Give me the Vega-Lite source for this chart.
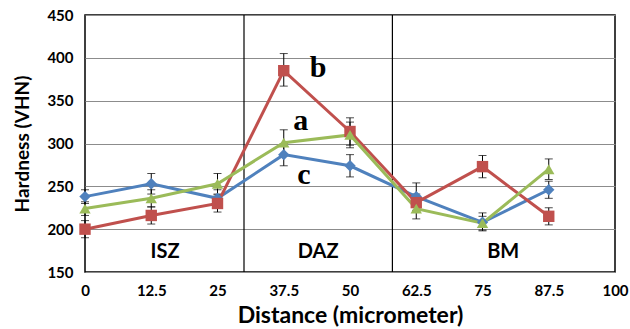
{
  "$schema": "https://vega.github.io/schema/vega-lite/v6.json",
  "width": 530,
  "height": 257,
  "autosize": {"type": "none"},
  "padding": {"left": 85, "top": 15, "right": 15, "bottom": 57},
  "background": "white",
  "config": {
    "view": {"stroke": "#000000", "strokeWidth": 1.5},
    "font": "Lato"
  },
  "datasets": {
    "pts": [
      {"s": "c", "x": 0, "y": 238, "lo": 230, "hi": 246},
      {"s": "c", "x": 12.5, "y": 253, "lo": 241, "hi": 265},
      {"s": "c", "x": 25, "y": 236, "lo": 226, "hi": 246},
      {"s": "c", "x": 37.5, "y": 287, "lo": 274, "hi": 300},
      {"s": "c", "x": 50, "y": 274, "lo": 261, "hi": 287},
      {"s": "c", "x": 62.5, "y": 238, "lo": 222, "hi": 254},
      {"s": "c", "x": 75, "y": 208, "lo": 198, "hi": 219},
      {"s": "c", "x": 87.5, "y": 246, "lo": 236, "hi": 256},
      {"s": "b", "x": 0, "y": 200, "lo": 190, "hi": 210},
      {"s": "b", "x": 12.5, "y": 216, "lo": 206, "hi": 226},
      {"s": "b", "x": 25, "y": 230, "lo": 220, "hi": 240},
      {"s": "b", "x": 37.5, "y": 385, "lo": 367, "hi": 405},
      {"s": "b", "x": 50, "y": 314, "lo": 298, "hi": 330},
      {"s": "b", "x": 62.5, "y": 231, "lo": 221, "hi": 241},
      {"s": "b", "x": 75, "y": 273, "lo": 260, "hi": 286},
      {"s": "b", "x": 87.5, "y": 215, "lo": 205, "hi": 225},
      {"s": "a", "x": 0, "y": 224, "lo": 216, "hi": 232},
      {"s": "a", "x": 12.5, "y": 236, "lo": 226, "hi": 246},
      {"s": "a", "x": 25, "y": 253, "lo": 241, "hi": 265},
      {"s": "a", "x": 37.5, "y": 301, "lo": 286, "hi": 316},
      {"s": "a", "x": 50, "y": 310, "lo": 295, "hi": 325},
      {"s": "a", "x": 62.5, "y": 224, "lo": 212, "hi": 236},
      {"s": "a", "x": 75, "y": 207, "lo": 199, "hi": 215},
      {"s": "a", "x": 87.5, "y": 270, "lo": 258, "hi": 282}
    ]
  },
  "layer": [
    {
      "data": {"values": [{"x": 30}, {"x": 58}]},
      "mark": {"type": "rule", "color": "#000000", "strokeWidth": 1.2},
      "encoding": {
        "x": {
          "field": "x", "type": "quantitative",
          "scale": {"domain": [0, 100], "nice": false, "zero": false},
          "axis": {
            "values": [0, 12.5, 25, 37.5, 50, 62.5, 75, 87.5, 100],
            "format": ".1~f",
            "title": "Distance (micrometer)",
            "titleFontSize": 23, "titleFontWeight": "bold", "titleColor": "#000000",
            "titlePadding": 6,
            "labelFontSize": 15, "labelFontWeight": "bold", "labelColor": "#000000",
            "labelPadding": 11, "ticks": false, "grid": false, "domain": false,
            "labelFlush": false
          }
        }
      }
    },
    {
      "data": {"name": "pts"},
      "layer": [
        {
          "mark": {"type": "rule", "color": "#000000", "strokeWidth": 1},
          "encoding": {
            "x": {"field": "x", "type": "quantitative"},
            "y": {
              "field": "lo", "type": "quantitative",
              "scale": {"domain": [150, 450], "nice": false, "zero": false},
              "axis": {
                "values": [150, 200, 250, 300, 350, 400, 450],
                "title": "Hardness (VHN)",
                "titleFontSize": 19, "titleFontWeight": "bold", "titleColor": "#000000",
                "titlePadding": 14,
                "labelFontSize": 15, "labelFontWeight": "bold", "labelColor": "#000000",
                "labelPadding": 12, "ticks": false, "domain": false,
                "grid": true, "gridColor": "#8c8c8c", "gridWidth": 1.2
              }
            },
            "y2": {"field": "hi"}
          }
        },
        {
          "mark": {"type": "tick", "orient": "horizontal", "color": "#000000", "size": 8, "thickness": 1},
          "encoding": {
            "x": {"field": "x", "type": "quantitative"},
            "y": {"field": "lo", "type": "quantitative"}
          }
        },
        {
          "mark": {"type": "tick", "orient": "horizontal", "color": "#000000", "size": 8, "thickness": 1},
          "encoding": {
            "x": {"field": "x", "type": "quantitative"},
            "y": {"field": "hi", "type": "quantitative"}
          }
        },
        {
          "mark": {"type": "line", "strokeWidth": 3},
          "encoding": {
            "x": {"field": "x", "type": "quantitative"},
            "y": {"field": "y", "type": "quantitative"},
            "color": {
              "field": "s", "type": "nominal", "legend": null,
              "scale": {"domain": ["c", "b", "a"], "range": ["#4F81BD", "#C0504D", "#9BBB59"]}
            }
          }
        },
        {
          "mark": {"type": "point", "filled": true, "opacity": 1, "size": 130},
          "encoding": {
            "x": {"field": "x", "type": "quantitative"},
            "y": {"field": "y", "type": "quantitative"},
            "color": {"field": "s", "type": "nominal", "legend": null},
            "shape": {
              "field": "s", "type": "nominal", "legend": null,
              "scale": {"domain": ["c", "b", "a"], "range": ["diamond", "square", "triangle-up"]}
            }
          }
        }
      ]
    },
    {
      "data": {"values": [
        {"x": 44, "y": 388, "t": "b"},
        {"x": 40.7, "y": 326, "t": "a"},
        {"x": 41.3, "y": 263, "t": "c"}
      ]},
      "mark": {"type": "text", "font": "Liberation Serif", "fontWeight": "bold", "fontSize": 30, "color": "#000000", "baseline": "middle"},
      "encoding": {
        "x": {"field": "x", "type": "quantitative"},
        "y": {"field": "y", "type": "quantitative"},
        "text": {"field": "t"}
      }
    },
    {
      "data": {"values": [
        {"x": 15.1, "y": 173, "t": "ISZ"},
        {"x": 44, "y": 173, "t": "DAZ"},
        {"x": 78.9, "y": 173, "t": "BM"}
      ]},
      "mark": {"type": "text", "font": "Lato", "fontWeight": "bold", "fontSize": 20, "color": "#000000", "baseline": "middle"},
      "encoding": {
        "x": {"field": "x", "type": "quantitative"},
        "y": {"field": "y", "type": "quantitative"},
        "text": {"field": "t"}
      }
    }
  ]
}
